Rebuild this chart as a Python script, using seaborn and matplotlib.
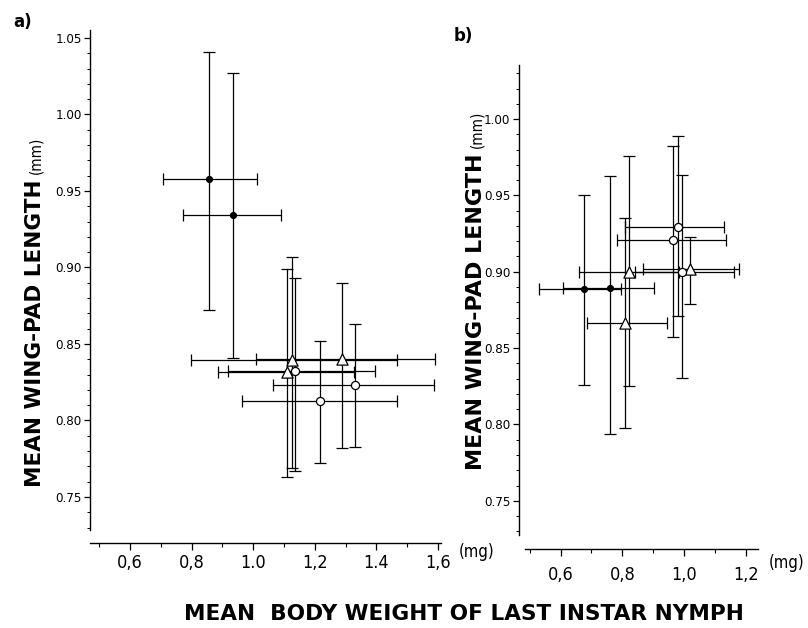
import numpy as np
import pandas as pd
import seaborn as sns
import matplotlib
matplotlib.use("Agg")
import matplotlib.pyplot as plt
from matplotlib.ticker import MultipleLocator, FixedLocator

# values (means and ends of the error bars)
groups = ["filled", "filled", "triangle", "triangle", "triangle", "circle", "circle", "circle"]

# panel a
a_x = [0.857, 0.935, 1.127, 1.287, 1.109, 1.136, 1.331, 1.217]
a_y = [0.958, 0.934, 0.8395, 0.840, 0.8315, 0.832, 0.823, 0.813]
a_x_lo = [0.706, 0.773, 0.797, 1.008, 0.885, 0.917, 1.065, 0.965]
a_x_hi = [1.013, 1.090, 1.466, 1.590, 1.327, 1.395, 1.587, 1.466]
a_y_lo = [0.872, 0.841, 0.769, 0.782, 0.763, 0.767, 0.7825, 0.772]
a_y_hi = [1.041, 1.027, 0.907, 0.890, 0.899, 0.893, 0.863, 0.852]

# panel b
b_x = [0.676, 0.761, 0.822, 1.019, 0.808, 0.979, 0.964, 0.992]
b_y = [0.8885, 0.8895, 0.900, 0.902, 0.8666, 0.929, 0.921, 0.8996]
b_x_lo = [0.531, 0.608, 0.660, 0.867, 0.687, 0.808, 0.784, 0.840]
b_x_hi = [0.797, 0.902, 0.984, 1.178, 0.945, 1.129, 1.137, 1.161]
b_y_lo = [0.826, 0.7935, 0.825, 0.879, 0.798, 0.871, 0.857, 0.8306]
b_y_hi = [0.950, 0.963, 0.976, 0.9225, 0.935, 0.989, 0.9825, 0.9633]

a_xticks = [0.6, 0.8, 1.0, 1.2, 1.4, 1.6]
a_xticklabels = ["0,6", "0,8", "1.0", "1,2", "1.4", "1,6"]
b_xticks = [0.6, 0.8, 1.0, 1.2]
b_xticklabels = ["0,6", "0,8", "1,0", "1,2"]
a_yticks = [0.75, 0.80, 0.85, 0.90, 0.95, 1.00, 1.05]
b_yticks = [0.75, 0.80, 0.85, 0.90, 0.95, 1.00]

sns.set_style("ticks")
plt.rcParams["font.family"] = ["DejaVu Sans"]
plt.rcParams["font.stretch"] = "condensed"
for key in ("text.color", "axes.edgecolor", "xtick.color", "ytick.color", "axes.labelcolor"):
    plt.rcParams[key] = "black"

W, H = 808, 628
fig = plt.figure(figsize=(W / 100, H / 100), dpi=100)


def px_axes(left, top, right, bottom):
    return fig.add_axes([left / W, 1 - bottom / H, (right - left) / W, (bottom - top) / H])


def build(x, y, xlo, xhi, ylo, yhi):
    return pd.DataFrame({"x": x, "y": y, "x_lo": xlo, "x_hi": xhi,
                         "y_lo": ylo, "y_hi": yhi, "group": groups})


marker_style = {
    "filled": dict(marker="o", s=18, color="black"),
    "triangle": dict(marker="^", s=65, color="white"),
    "circle": dict(marker="o", s=34, color="white"),
}


def draw_panel(ax, df, xlim, ylim, xticks, xticklabels, yticks, left_off, bottom_off, xpad):
    ax.errorbar(df["x"], df["y"],
                xerr=[df["x"] - df["x_lo"], df["x_hi"] - df["x"]],
                yerr=[df["y"] - df["y_lo"], df["y_hi"] - df["y"]],
                fmt="none", ecolor="black", elinewidth=0.9, capsize=4.5, capthick=0.9, zorder=1)
    for g, kw in marker_style.items():
        sub = df[df["group"] == g]
        sns.scatterplot(data=sub, x="x", y="y", marker=kw["marker"], s=kw["s"],
                        color=kw["color"], edgecolor="black", linewidth=0.9,
                        zorder=3, ax=ax, legend=False)
    ax.set_xlim(*xlim)
    ax.set_ylim(*ylim)
    ax.set_xlabel("")
    ax.set_ylabel("")
    sns.despine(ax=ax)
    ax.spines["left"].set_position(("outward", left_off))
    ax.spines["bottom"].set_position(("outward", bottom_off))
    for sp in ("left", "bottom"):
        ax.spines[sp].set_linewidth(1.0)
    ax.xaxis.set_major_locator(FixedLocator(xticks))
    ax.set_xticklabels(xticklabels)
    ax.xaxis.set_minor_locator(MultipleLocator(0.1))
    ax.yaxis.set_major_locator(FixedLocator(yticks))
    ax.set_yticklabels([f"{v:.2f}" for v in yticks])
    ax.yaxis.set_minor_locator(MultipleLocator(0.01))
    ax.tick_params(axis="x", which="major", length=5, width=0.9, pad=xpad, labelsize=13)
    ax.tick_params(axis="x", which="minor", length=3, width=0.8)
    ax.tick_params(axis="y", which="major", length=4, width=0.9, pad=2, labelsize=9.5)
    ax.tick_params(axis="y", which="minor", length=2.5, width=0.7)
    ax.patch.set_alpha(0)


df_a = build(a_x, a_y, a_x_lo, a_x_hi, a_y_lo, a_y_hi)
df_b = build(b_x, b_y, b_x_lo, b_x_hi, b_y_lo, b_y_hi)

ax_a = px_axes(90, 30, 441, 530)
draw_panel(ax_a, df_a, (0.47, 1.61), (0.7284, 1.0552), a_xticks, a_xticklabels, a_yticks, 0, 9, 3)

ax_b = px_axes(525, 65, 758, 535)
draw_panel(ax_b, df_b, (0.485, 1.239), (0.7276, 1.0354), b_xticks, b_xticklabels, b_yticks, 4.5, 10, 7)

heavy = dict(family="DejaVu Sans", fontweight="bold", fontstretch="normal")

# panel letters and unit marks
fig.text(13 / W, 1 - 22 / H, "a)", fontsize=12, va="center", **heavy)
fig.text(454 / W, 1 - 36 / H, "b)", fontsize=12, va="center", **heavy)
fig.text(477 / W, 1 - 552 / H, "(mg)", fontsize=12, ha="center", va="center")
fig.text(787 / W, 1 - 563 / H, "(mg)", fontsize=12, ha="center", va="center")

fig.canvas.draw()
renderer = fig.canvas.get_renderer()


def fit_text(t, target, vertical=False):
    bb = t.get_window_extent(renderer)
    size = bb.height if vertical else bb.width
    t.set_fontsize(t.get_fontsize() * target / size)


xl = fig.text(464 / W, 1 - 614 / H, "MEAN  BODY WEIGHT OF LAST INSTAR NYMPH", fontsize=15,
              ha="center", va="center", **heavy)
fit_text(xl, 558)

# rotated y labels: heavy main part + regular "(mm)"
for xc, ybot, length in ((35, 487, 307), (476, 470, 318)):
    t = fig.text(xc / W, 1 - ybot / H, "MEAN WING-PAD LENGTH", fontsize=15,
                 rotation=90, ha="center", va="bottom", **heavy)
    fit_text(t, length, vertical=True)
    bb = t.get_window_extent(renderer)
    fig.text((xc + 1) / W, (bb.y1 + 6) / H, "(mm)", fontsize=11, rotation=90, ha="center", va="bottom")

fig.savefig("out.png", dpi=100, facecolor="white")
